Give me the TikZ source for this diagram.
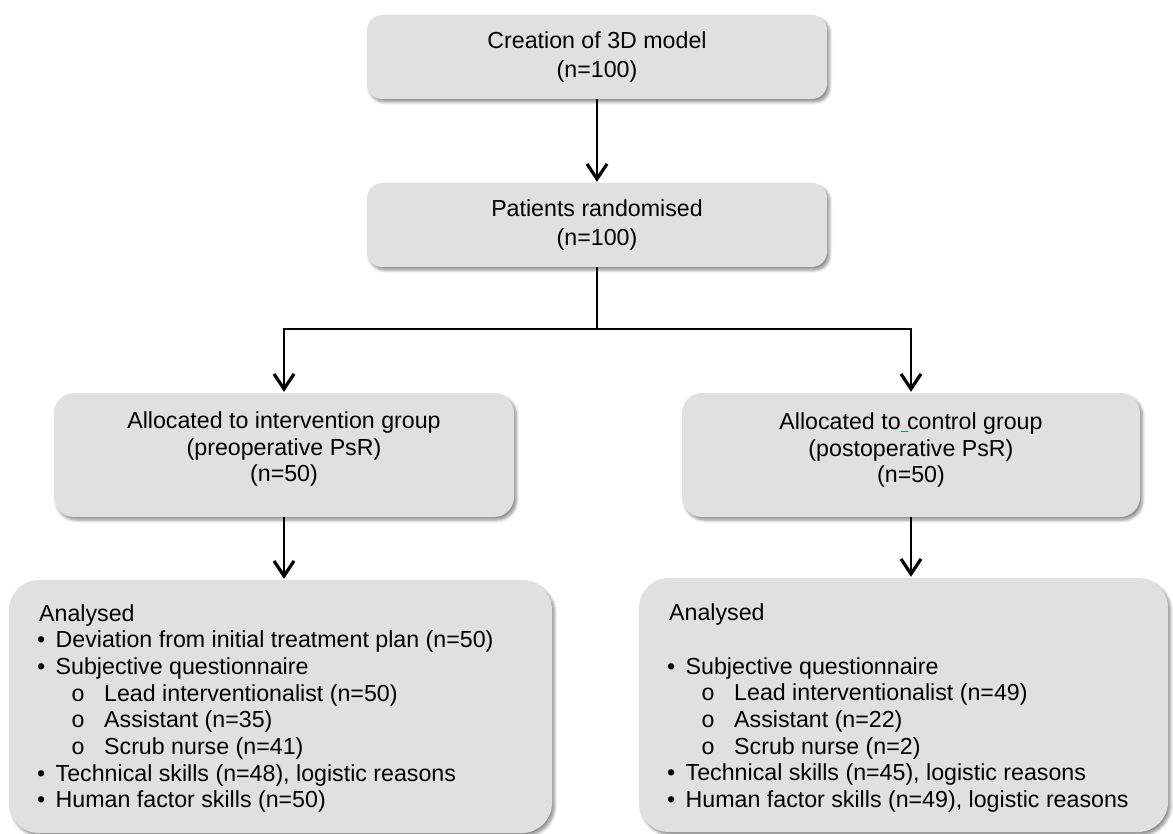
\documentclass[tikz,border=0pt]{standalone}
\usepackage{fontspec}
\setmainfont{Liberation Sans}
\newfontfamily\monofnt{Liberation Mono}
\usetikzlibrary{arrows.meta,shadows.blur}
\definecolor{boxgray}{RGB}{224,224,224}
\newcommand\bul{\makebox[16.5pt][l]{\hspace{-2pt}•}}
\newcommand\subb{\hspace*{32pt}\makebox[33pt][l]{\monofnt o}}
\begin{document}
\begin{tikzpicture}[x=1pt,y=-1pt,
  box/.style={draw=none, fill=boxgray, rounded corners=#1,
    blur shadow={shadow xshift=2.5pt, shadow yshift=-3pt, shadow blur radius=3pt, shadow blur steps=6, shadow opacity=45}},
  toptxt/.style={align=center, font=\fontsize{23.2pt}{28.5pt}\selectfont},
  midtxt/.style={align=center, inner sep=0pt, font=\fontsize{23.2pt}{26.7pt}\selectfont},
  listline/.style={anchor=base west, inner sep=0pt, font=\fontsize{23.2pt}{26.7pt}\selectfont},
  arr/.style={line width=2pt, -{Straight Barb[length=15pt,width=20pt,line width=3.2pt]}, shorten >=1pt},
  conn/.style={line width=2pt}]
\useasboundingbox (0,0) rectangle (1173,834);
% top boxes
\node[box=15pt, toptxt, minimum width=460pt, minimum height=84pt] (model) at (597,57) {Creation of 3D model\\(n=100)};
\node[box=15pt, toptxt, minimum width=460pt, minimum height=84pt] (rand) at (597,225) {Patients randomised\\(n=100)};
% allocation boxes
\node[box=20pt, minimum width=460pt, minimum height=124pt] (alloc1) at (284,455) {};
\node[midtxt] (alloc1t) at (284,449) {Allocated to intervention group\\(preoperative PsR)\\(n=50)};
\node[box=20pt, minimum width=458pt, minimum height=124pt] (alloc2) at (911,455) {};
\node[midtxt] (alloc2t) at (911,450) {Allocated to control group\\(postoperative PsR)\\(n=50)};
\draw[red!85, line width=0.8pt] (901,431) -- (908,431);
% analysed boxes
\node[box=30pt, minimum width=543pt, minimum height=253pt] (ana1) at (280.5,706.5) {};
\node[box=30pt, minimum width=529pt, minimum height=254pt] (ana2) at (903.5,705) {};
\foreach \y/\t [count=\i] in {
  621/Analysed,
  647.7/{\bul Deviation from initial treatment plan (n=50)},
  674.4/{\bul Subjective questionnaire},
  701.1/{\subb Lead interventionalist (n=50)},
  727.8/{\subb Assistant (n=35)},
  754.5/{\subb Scrub nurse (n=41)},
  781.2/{\bul Technical skills (n=48), logistic reasons},
  807.9/{\bul Human factor skills (n=50)}}
  \node[listline] (la\i) at (39,\y) {\t};
\foreach \y/\t [count=\i] in {
  620.7/Analysed,
  674.1/{\bul Subjective questionnaire},
  700.8/{\subb Lead interventionalist (n=49)},
  727.5/{\subb Assistant (n=22)},
  754.2/{\subb Scrub nurse (n=2)},
  780.9/{\bul Technical skills (n=45), logistic reasons},
  807.6/{\bul Human factor skills (n=49), logistic reasons}}
  \node[listline] (lb\i) at (669,\y) {\t};
% connectors
\coordinate (split) at (597,329);
\draw[arr] (model.south) -- (rand.north);
\draw[conn] (rand.south) -- (split);
\draw[arr] (split) -| (alloc1.north);
\draw[arr] (split) -| (alloc2.north);
\draw[arr] (alloc1.south) -- (alloc1.south |- ana1.north);
\draw[arr] (alloc2.south) -- (alloc2.south |- ana2.north);
\end{tikzpicture}
\end{document}
